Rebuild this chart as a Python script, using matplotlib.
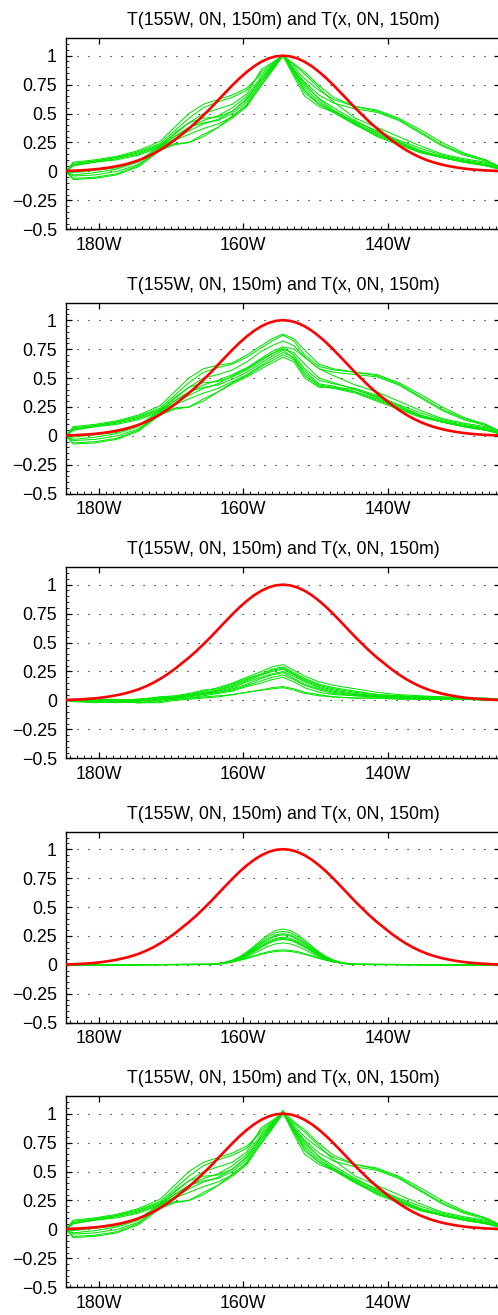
import matplotlib
matplotlib.use("Agg")
import matplotlib.pyplot as plt
from matplotlib.ticker import FixedLocator, MultipleLocator, FuncFormatter

plt.rcParams["font.family"] = ["Liberation Sans", "DejaVu Sans"]

TITLE = "T(155W, 0N, 150m) and T(x, 0N, 150m)"

# longitude (degrees east) of the reference profile samples
RED_LON = [175.5 + i for i in range(61)]
RED = [0.004, 0.006, 0.009, 0.013, 0.018, 0.025, 0.034, 0.045, 0.058, 0.075,
       0.095, 0.120, 0.150, 0.185, 0.225, 0.270, 0.320, 0.370, 0.425, 0.485,
       0.547, 0.613, 0.679, 0.744, 0.805, 0.860, 0.908, 0.947, 0.976, 0.994,
       1.000,
       0.994, 0.976, 0.947, 0.908, 0.860, 0.805, 0.744, 0.679, 0.613, 0.547,
       0.485, 0.425, 0.370, 0.320, 0.270, 0.225, 0.185, 0.150, 0.120, 0.095,
       0.075, 0.058, 0.045, 0.034, 0.025, 0.018, 0.013, 0.009, 0.006, 0.004]

# longitudes of the ensemble member samples
LON = [175.5, 176.5, 179.5, 182.5, 185.5, 188.5, 190.5, 192.5, 194.5, 196.5,
       198.5, 200.5, 202.5, 204.0, 205.5, 207.0, 208.5, 210.5, 212.5, 215.5,
       218.5, 221.5, 224.5, 227.5, 230.5, 233.5, 235.5]

PANEL1 = [
    [0, 0.08, 0.10, 0.13, 0.18, 0.26, 0.38, 0.50, 0.58, 0.62, 0.66, 0.72, 0.84, 0.92, 1.0, 0.93, 0.86, 0.74, 0.64, 0.56, 0.52, 0.45, 0.34, 0.23, 0.15, 0.10, 0.04],
    [0, 0.07, 0.09, 0.12, 0.17, 0.24, 0.35, 0.46, 0.55, 0.60, 0.64, 0.70, 0.86, 0.93, 1.0, 0.90, 0.80, 0.70, 0.62, 0.56, 0.53, 0.46, 0.36, 0.25, 0.16, 0.10, 0.04],
    [0, 0.06, 0.09, 0.12, 0.16, 0.23, 0.32, 0.42, 0.50, 0.54, 0.58, 0.67, 0.88, 0.94, 1.0, 0.88, 0.77, 0.66, 0.59, 0.54, 0.51, 0.44, 0.33, 0.22, 0.14, 0.09, 0.03],
    [0, 0.05, 0.08, 0.11, 0.15, 0.22, 0.30, 0.38, 0.44, 0.48, 0.55, 0.65, 0.82, 0.91, 1.0, 0.92, 0.84, 0.72, 0.60, 0.46, 0.38, 0.30, 0.22, 0.15, 0.11, 0.08, 0.03],
    [0, 0.05, 0.08, 0.10, 0.14, 0.21, 0.28, 0.35, 0.41, 0.45, 0.52, 0.62, 0.80, 0.90, 1.0, 0.84, 0.68, 0.58, 0.52, 0.43, 0.35, 0.27, 0.20, 0.14, 0.10, 0.07, 0.02],
    [0, -0.01, 0.01, 0.03, 0.09, 0.22, 0.33, 0.42, 0.46, 0.47, 0.52, 0.63, 0.80, 0.90, 1.0, 0.88, 0.76, 0.62, 0.53, 0.42, 0.33, 0.25, 0.18, 0.13, 0.09, 0.06, 0.02],
    [0, -0.03, -0.01, 0.02, 0.08, 0.21, 0.30, 0.38, 0.42, 0.44, 0.50, 0.60, 0.78, 0.89, 1.0, 0.82, 0.65, 0.56, 0.51, 0.41, 0.32, 0.24, 0.17, 0.12, 0.09, 0.06, 0.02],
    [0, -0.04, -0.03, 0.00, 0.06, 0.20, 0.27, 0.32, 0.37, 0.41, 0.47, 0.58, 0.77, 0.88, 1.0, 0.85, 0.70, 0.58, 0.51, 0.40, 0.31, 0.24, 0.17, 0.12, 0.08, 0.05, 0.02],
    [0, -0.06, -0.05, -0.02, 0.05, 0.19, 0.24, 0.25, 0.32, 0.38, 0.46, 0.56, 0.75, 0.87, 1.0, 0.86, 0.72, 0.60, 0.52, 0.41, 0.30, 0.23, 0.16, 0.12, 0.08, 0.05, 0.02],
    [0, -0.07, -0.06, -0.03, 0.04, 0.18, 0.23, 0.25, 0.30, 0.38, 0.48, 0.57, 0.74, 0.87, 1.0, 0.87, 0.74, 0.63, 0.55, 0.44, 0.34, 0.26, 0.18, 0.12, 0.08, 0.05, 0.02],
]

PANEL2 = [
    [0, 0.08, 0.10, 0.13, 0.18, 0.26, 0.38, 0.50, 0.58, 0.61, 0.63, 0.70, 0.78, 0.84, 0.88, 0.84, 0.74, 0.62, 0.58, 0.55, 0.52, 0.45, 0.34, 0.23, 0.15, 0.10, 0.04],
    [0, 0.07, 0.09, 0.12, 0.17, 0.24, 0.35, 0.46, 0.55, 0.59, 0.62, 0.68, 0.76, 0.82, 0.87, 0.82, 0.70, 0.60, 0.57, 0.55, 0.53, 0.46, 0.36, 0.25, 0.16, 0.10, 0.04],
    [0, 0.06, 0.09, 0.12, 0.16, 0.23, 0.32, 0.42, 0.50, 0.53, 0.57, 0.64, 0.73, 0.78, 0.82, 0.78, 0.68, 0.58, 0.55, 0.53, 0.51, 0.44, 0.33, 0.22, 0.14, 0.09, 0.03],
    [0, 0.05, 0.08, 0.11, 0.15, 0.22, 0.30, 0.38, 0.44, 0.48, 0.53, 0.59, 0.67, 0.73, 0.77, 0.75, 0.68, 0.58, 0.52, 0.44, 0.38, 0.30, 0.22, 0.15, 0.11, 0.08, 0.03],
    [0, 0.05, 0.08, 0.10, 0.14, 0.21, 0.28, 0.35, 0.41, 0.45, 0.52, 0.58, 0.66, 0.71, 0.76, 0.70, 0.58, 0.48, 0.45, 0.41, 0.35, 0.27, 0.20, 0.14, 0.10, 0.07, 0.02],
    [0, -0.01, 0.01, 0.03, 0.09, 0.22, 0.33, 0.42, 0.46, 0.47, 0.51, 0.57, 0.65, 0.71, 0.75, 0.72, 0.62, 0.50, 0.46, 0.40, 0.33, 0.25, 0.18, 0.13, 0.09, 0.06, 0.02],
    [0, -0.03, -0.01, 0.02, 0.08, 0.21, 0.30, 0.38, 0.42, 0.44, 0.49, 0.55, 0.63, 0.69, 0.74, 0.67, 0.54, 0.44, 0.42, 0.38, 0.32, 0.24, 0.17, 0.12, 0.09, 0.06, 0.02],
    [0, -0.04, -0.03, 0.00, 0.06, 0.20, 0.27, 0.32, 0.37, 0.41, 0.47, 0.53, 0.61, 0.67, 0.72, 0.68, 0.56, 0.45, 0.43, 0.38, 0.31, 0.24, 0.17, 0.12, 0.08, 0.05, 0.02],
    [0, -0.06, -0.05, -0.02, 0.05, 0.19, 0.24, 0.25, 0.32, 0.38, 0.46, 0.52, 0.60, 0.65, 0.70, 0.66, 0.52, 0.43, 0.41, 0.37, 0.30, 0.23, 0.16, 0.12, 0.08, 0.05, 0.02],
    [0, -0.07, -0.06, -0.03, 0.04, 0.18, 0.23, 0.25, 0.30, 0.38, 0.45, 0.51, 0.58, 0.63, 0.68, 0.64, 0.50, 0.42, 0.42, 0.40, 0.34, 0.26, 0.18, 0.12, 0.08, 0.05, 0.02],
]

PANEL3 = [
    [0, 0.00, 0.01, 0.01, 0.00, 0.02, 0.03, 0.05, 0.08, 0.11, 0.15, 0.20, 0.25, 0.29, 0.31, 0.26, 0.21, 0.16, 0.13, 0.10, 0.07, 0.05, 0.04, 0.03, 0.02, 0.02, 0.01],
    [0, 0.01, 0.00, 0.00, 0.01, 0.03, 0.04, 0.06, 0.09, 0.10, 0.14, 0.19, 0.23, 0.27, 0.29, 0.24, 0.19, 0.14, 0.11, 0.08, 0.05, 0.04, 0.03, 0.03, 0.02, 0.02, 0.01],
    [0, -0.01, -0.01, 0.00, 0.01, 0.02, 0.03, 0.05, 0.07, 0.09, 0.12, 0.17, 0.22, 0.25, 0.27, 0.22, 0.17, 0.12, 0.09, 0.06, 0.04, 0.03, 0.03, 0.02, 0.02, 0.01, 0.01],
    [0, 0.00, -0.01, -0.02, 0.00, 0.03, 0.03, 0.04, 0.06, 0.08, 0.11, 0.16, 0.20, 0.23, 0.25, 0.21, 0.16, 0.11, 0.08, 0.05, 0.04, 0.03, 0.02, 0.02, 0.02, 0.01, 0.00],
    [0, -0.01, -0.02, -0.01, 0.01, 0.02, 0.02, 0.04, 0.06, 0.07, 0.10, 0.14, 0.19, 0.22, 0.24, 0.19, 0.14, 0.10, 0.07, 0.05, 0.03, 0.03, 0.02, 0.02, 0.01, 0.01, 0.00],
    [0, 0.00, 0.00, -0.01, -0.02, 0.00, 0.02, 0.03, 0.05, 0.07, 0.09, 0.13, 0.17, 0.20, 0.22, 0.18, 0.13, 0.09, 0.06, 0.04, 0.03, 0.02, 0.02, 0.02, 0.01, 0.01, 0.00],
    [0, -0.01, 0.00, 0.00, -0.01, 0.01, 0.01, 0.02, 0.04, 0.06, 0.08, 0.12, 0.15, 0.18, 0.20, 0.16, 0.11, 0.07, 0.05, 0.04, 0.03, 0.02, 0.02, 0.01, 0.01, 0.01, 0.00],
    [0, 0.00, 0.01, 0.00, -0.02, -0.01, 0.01, 0.02, 0.03, 0.04, 0.05, 0.07, 0.09, 0.11, 0.12, 0.10, 0.07, 0.05, 0.03, 0.02, 0.02, 0.02, 0.01, 0.01, 0.01, 0.01, 0.00],
    [0, 0.00, 0.00, -0.01, -0.02, -0.02, 0.00, 0.01, 0.02, 0.03, 0.05, 0.07, 0.09, 0.10, 0.11, 0.09, 0.06, 0.04, 0.03, 0.02, 0.02, 0.01, 0.01, 0.01, 0.01, 0.00, 0.00],
    [0, 0.01, 0.01, 0.00, 0.00, 0.01, 0.02, 0.04, 0.06, 0.09, 0.13, 0.18, 0.22, 0.26, 0.28, 0.23, 0.18, 0.13, 0.10, 0.07, 0.05, 0.04, 0.03, 0.02, 0.02, 0.01, 0.01],
]

# localized members sampled every degree across the bump
LON4 = [175.5, 195.5, 196.5, 197.5, 198.5, 199.5, 200.5, 201.5, 202.5, 203.5,
        204.5, 205.5, 206.5, 207.5, 208.5, 209.5, 210.5, 211.5, 212.5, 213.5,
        214.5, 215.5, 235.5]

PANEL4 = [
    [0, 0.005, 0.011, 0.023, 0.042, 0.071, 0.112, 0.161, 0.215, 0.263, 0.298, 0.310, 0.298, 0.263, 0.215, 0.161, 0.112, 0.071, 0.042, 0.023, 0.011, 0.005, 0],
    [0, 0.005, 0.011, 0.021, 0.039, 0.067, 0.104, 0.151, 0.201, 0.246, 0.278, 0.290, 0.278, 0.246, 0.201, 0.151, 0.104, 0.067, 0.039, 0.021, 0.011, 0.005, 0],
    [0, 0.005, 0.010, 0.020, 0.036, 0.062, 0.097, 0.140, 0.187, 0.229, 0.259, 0.270, 0.259, 0.229, 0.187, 0.140, 0.097, 0.062, 0.036, 0.020, 0.010, 0.005, 0],
    [0, 0.004, 0.010, 0.019, 0.035, 0.060, 0.094, 0.135, 0.180, 0.221, 0.250, 0.260, 0.250, 0.221, 0.180, 0.135, 0.094, 0.060, 0.035, 0.019, 0.010, 0.004, 0],
    [0, 0.004, 0.009, 0.018, 0.032, 0.055, 0.086, 0.125, 0.166, 0.204, 0.230, 0.240, 0.230, 0.204, 0.166, 0.125, 0.086, 0.055, 0.032, 0.018, 0.009, 0.004, 0],
    [0, 0.004, 0.009, 0.017, 0.031, 0.053, 0.083, 0.120, 0.159, 0.195, 0.221, 0.230, 0.221, 0.195, 0.159, 0.120, 0.083, 0.053, 0.031, 0.017, 0.009, 0.004, 0],
    [0, 0.004, 0.008, 0.016, 0.030, 0.051, 0.079, 0.114, 0.152, 0.187, 0.211, 0.220, 0.211, 0.187, 0.152, 0.114, 0.079, 0.051, 0.030, 0.016, 0.008, 0.004, 0],
    [0, 0.003, 0.007, 0.014, 0.026, 0.044, 0.068, 0.099, 0.132, 0.161, 0.182, 0.190, 0.182, 0.161, 0.132, 0.099, 0.068, 0.044, 0.026, 0.014, 0.007, 0.003, 0],
    [0, 0.006, 0.010, 0.018, 0.028, 0.042, 0.060, 0.079, 0.098, 0.115, 0.126, 0.130, 0.126, 0.115, 0.098, 0.079, 0.060, 0.042, 0.028, 0.018, 0.010, 0.006, 0],
    [0, 0.005, 0.009, 0.016, 0.026, 0.039, 0.055, 0.073, 0.091, 0.106, 0.116, 0.120, 0.116, 0.106, 0.091, 0.073, 0.055, 0.039, 0.026, 0.016, 0.009, 0.005, 0],
]

# last panel: same members as the first, with their own values at 154.5W
PANEL5_PEAK = [1.02, 1.00, 1.01, 1.00, 1.03, 1.00, 1.01, 1.00, 1.02, 1.00]
PEAK_INDEX = LON.index(205.5)
PANEL5 = []
for member, peak in zip(PANEL1, PANEL5_PEAK):
    row = list(member)
    row[PEAK_INDEX] = peak
    PANEL5.append(row)

PANELS = [(LON, PANEL1), (LON, PANEL2), (LON, PANEL3), (LON4, PANEL4), (LON, PANEL5)]

X_TICKS = [180, 200, 220]
Y_TICKS = [-0.5, -0.25, 0, 0.25, 0.5, 0.75, 1]
XLIM = (175.5, 235.5)
YLIM = (-0.5, 1.15)

GREEN = "#00e600"
RED_C = "#ff0000"

W, H = 498, 1315
fig = plt.figure(figsize=(W / 100, H / 100), dpi=100)

left_px, right_px = 66, 500
height_px = 191
bottom_px0 = 229.3
step_px = 264.5


def lon_label(v, pos):
    return f"{360 - v:g}W"


def y_label(v, pos):
    return f"{v:g}".replace("-", "\u2212")


for i, (lon, members) in enumerate(PANELS):
    bottom_px = bottom_px0 + i * step_px
    ax = fig.add_axes([left_px / W, 1 - bottom_px / H,
                       (right_px - left_px) / W, height_px / H])
    for m in members:
        ax.plot(lon, m, color=GREEN, lw=0.75, zorder=2)
    ax.plot(RED_LON, RED, color=RED_C, lw=1.9, zorder=3, solid_capstyle="round")

    ax.set_xlim(*XLIM)
    ax.set_ylim(*YLIM)
    ax.xaxis.set_major_locator(FixedLocator(X_TICKS))
    ax.xaxis.set_minor_locator(MultipleLocator(1))
    ax.xaxis.set_major_formatter(FuncFormatter(lon_label))
    ax.yaxis.set_major_locator(FixedLocator(Y_TICKS))
    ax.yaxis.set_minor_locator(MultipleLocator(0.05))
    ax.yaxis.set_major_formatter(FuncFormatter(y_label))

    ax.tick_params(which="both", direction="in", top=True, right=True,
                   labelsize=12.8, colors="black")
    ax.tick_params(axis="x", which="major", length=4, width=0.9, pad=5.5)
    ax.tick_params(axis="y", which="major", length=4, width=0.9, pad=6.5)
    ax.tick_params(which="minor", length=2, width=0.6, top=False, right=False)

    ax.grid(True, axis="y", which="major", color="black", lw=0.8,
            linestyle=(0, (1, 8.9)))
    ax.set_axisbelow(True)
    for s in ax.spines.values():
        s.set_linewidth(1.0)
        s.set_color("black")

    ax.set_title(TITLE, fontsize=12.8, pad=9.5)

fig.savefig("out.png", dpi=100)
